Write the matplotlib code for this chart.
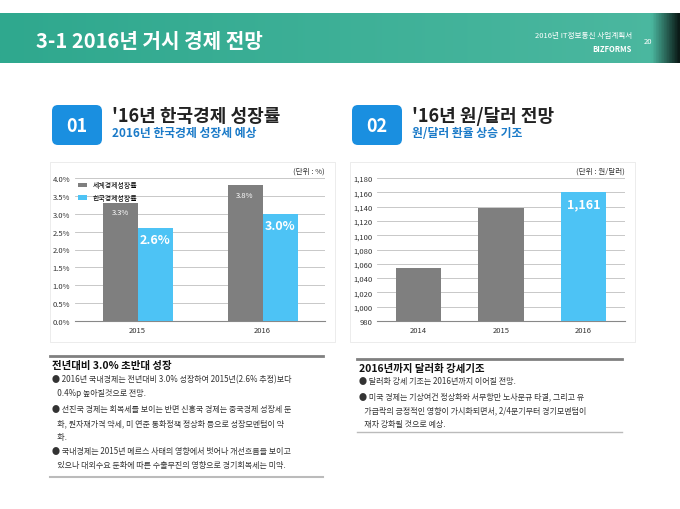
import numpy as np
import matplotlib.pyplot as plt
from matplotlib.patches import FancyBboxPatch, Rectangle
from matplotlib.ticker import FuncFormatter

plt.rcParams['font.family'] = ['Noto Sans CJK KR', 'DejaVu Sans']

W, H = 680, 510
fig = plt.figure(figsize=(6.8, 5.1), dpi=100)
bg = fig.add_axes([0, 0, 1, 1])
bg.set_xlim(0, W)
bg.set_ylim(H, 0)
bg.axis('off')

# header band with gradient
grad = np.linspace(0, 1, 256)
cols = np.ones((1, 256, 3))
base = np.array([0x2f, 0xa8, 0x8e]) / 255
light = np.array([0x4c, 0xb8, 0xa0]) / 255
for i, g in enumerate(grad):
    c = base * (1 - g) + light * g
    if g > 0.96:
        c = c * (1 - (g - 0.96) / 0.04 * 0.85)
    cols[0, i] = c
bg.imshow(cols, extent=[0, W, 64, 14], aspect='auto')
bg.set_xlim(0, W)
bg.set_ylim(H, 0)
bg.text(36, 41, '3-1 2016년 거시 경제 전망', color='white', fontsize=14.5, fontweight='bold', va='center')
bg.text(632, 36, '2016년 IT정보통신 사업계획서', color='white', fontsize=5.5, ha='right', va='center')
bg.text(632, 50, 'BIZFORMS', color='white', fontsize=5.5, ha='right', va='center', fontweight='bold')
bg.text(648, 42, '20', color='white', fontsize=5.5, ha='center', va='center')

# section headers
for x0, num, t1, t2 in [(52, '01', "'16년 한국경제 성장률", '2016년 한국경제 성장세 예상'),
                        (352, '02', "'16년 원/달러 전망", '원/달러 환율 상승 기조')]:
    bg.add_patch(FancyBboxPatch((x0, 106), 50, 40, boxstyle='round,pad=0,rounding_size=6',
                                fc='#1a8fe0', ec='none'))
    bg.text(x0 + 25, 126, num, color='white', fontsize=13, fontweight='bold', ha='center', va='center')
    bg.text(x0 + 60, 116, t1, color='#222222', fontsize=13, fontweight='bold', va='center')
    bg.text(x0 + 60, 134, t2, color='#1a7ac8', fontsize=8.5, fontweight='bold', va='center')

# chart frames
for x0 in (50, 350):
    bg.add_patch(Rectangle((x0, 163), 285, 180, fc='white', ec='#e4e4e4', lw=0.5))

data = {
    'growth': {'years': ['2015', '2016'], 'world': [3.3, 3.8], 'korea': [2.6, 3.0]},
    'fx': {'years': ['2014', '2015', '2016'], 'rate': [1054, 1138, 1161]},
}
gray, blue = '#7f7f7f', '#4dc3f5'

# chart 1
ax1 = fig.add_axes([75 / W, 1 - 322 / H, 250 / W, 143 / H])
d = data['growth']
x = np.arange(len(d['years']))
bw = 0.28
ax1.bar(x - bw / 2, d['world'], bw, color=gray, label='세계경제성장률', zorder=3)
ax1.bar(x + bw / 2, d['korea'], bw, color=blue, label='한국경제성장률', zorder=3)
for i in range(len(x)):
    ax1.text(x[i] - bw / 2, d['world'][i] - 0.15, f"{d['world'][i]:.1f}%", color='white',
             fontsize=5.5, ha='center', va='top', zorder=4)
    ax1.text(x[i] + bw / 2, d['korea'][i] - 0.15, f"{d['korea'][i]:.1f}%", color='white',
             fontsize=9, fontweight='bold', ha='center', va='top', zorder=4)
ax1.set_xlim(-0.5, 1.5)
ax1.set_ylim(0, 4.0)
ax1.set_yticks(np.arange(0, 4.01, 0.5))
ax1.yaxis.set_major_formatter(FuncFormatter(lambda v, p: f'{v:.1f}%'))
ax1.set_xticks(x)
ax1.set_xticklabels(d['years'])
ax1.legend(loc='upper left', fontsize=5, frameon=False, handlelength=1.2, borderaxespad=0.1,
           labelspacing=0.6)
ax1.text(1.0, 1.04, '(단위 : %)', transform=ax1.transAxes, ha='right', fontsize=5.5, color='#333333')

# chart 2
ax2 = fig.add_axes([377 / W, 1 - 322 / H, 248 / W, 143 / H])
d = data['fx']
x = np.arange(len(d['years']))
cl = [gray, gray, blue]
ax2.bar(x, d['rate'], 0.55, color=cl, zorder=3)
ax2.text(x[-1], d['rate'][-1] - 8, f"{d['rate'][-1]:,}", color='white', fontsize=9,
         fontweight='bold', ha='center', va='top', zorder=4)
ax2.set_xlim(-0.5, 2.5)
ax2.set_ylim(980, 1180)
ax2.set_yticks(np.arange(980, 1181, 20))
ax2.yaxis.set_major_formatter(FuncFormatter(lambda v, p: f'{int(v):,}'))
ax2.set_xticks(x)
ax2.set_xticklabels(d['years'])
ax2.text(1.0, 1.04, '(단위 : 원/달러)', transform=ax2.transAxes, ha='right', fontsize=5.5, color='#333333')

for ax in (ax1, ax2):
    ax.grid(axis='y', color='#bfbfbf', lw=0.6, zorder=0)
    ax.tick_params(labelsize=5.5, length=0, colors='#333333')
    for s in ('top', 'right', 'left'):
        ax.spines[s].set_visible(False)
    ax.spines['bottom'].set_color('#888888')
    ax.set_facecolor('white')

# text blocks
bg.plot([50, 323], [357, 357], color='#808080', lw=2)
bg.plot([50, 323], [478, 478], color='#bbbbbb', lw=1.5)
bg.text(52, 366, '전년대비 3.0% 초반대 성장', fontsize=7.5, fontweight='bold', va='center', color='#111111')
lines1 = [
    ('● 2016년 국내경제는 전년대비 3.0% 성장하여 2015년(2.6% 추정)보다', 380),
    ('   0.4%p 높아질것으로 전망.', 394),
    ('● 선진국 경제는 회복세를 보이는 반면 신흥국 경제는 중국경제 성장세 둔', 410),
    ('   화, 원자재가격 약세, 미 연준 통화정책 정상화 등으로 성장모멘텀이 약', 424),
    ('   화.', 438),
    ('● 국내경제는 2015년 메르스 사태의 영향에서 벗어나 개선흐름을 보이고', 452),
    ('   있으나 대외수요 둔화에 따른 수출부진의 영향으로 경기회복세는 미약.', 466),
]
for t, y in lines1:
    bg.text(52, y, t, fontsize=5.8, va='center', color='#333333')

bg.plot([357, 622], [360, 360], color='#808080', lw=2)
bg.plot([357, 622], [433, 433], color='#bbbbbb', lw=1)
bg.text(359, 369, '2016년까지 달러화 강세기조', fontsize=7.5, fontweight='bold', va='center', color='#111111')
lines2 = [
    ('● 달러화 강세 기조는 2016년까지 이어질 전망.', 382),
    ('● 미국 경제는 기상여건 정상화와 서부항만 노사분규 타결, 그리고 유', 397),
    ('   가급락의 긍정적인 영향이 가시화되면서, 2/4분기부터 경기모멘텀이', 411),
    ('   재차 강화될 것으로 예상.', 425),
]
for t, y in lines2:
    bg.text(359, y, t, fontsize=5.8, va='center', color='#333333')

fig.savefig('out.png', dpi=100)
